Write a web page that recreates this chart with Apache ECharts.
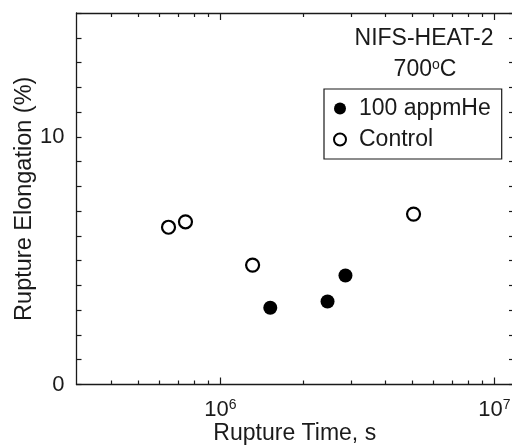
<!DOCTYPE html>
<html>
<head>
<meta charset="utf-8">
<script src="https://cdn.jsdelivr.net/npm/echarts@6/dist/echarts.min.js"></script>
<style>
  html, body { margin: 0; padding: 0; background: #fff; }
  #chart { width: 512px; height: 446px; }
</style>
</head>
<body>
<div id="chart"></div>
<script>
// ---- data ----
const heliumTime = [1.52e6, 2.46e6, 2.86e6]
const heliumElong = [3.1, 3.35, 4.4]
const controlTime = [6.46e5, 7.45e5, 1.31e6, 5.07e6]
const controlElong = [6.35, 6.57, 4.82, 6.88]

const xMajorTicks = [1e6, 1e7]
const xMinorTicks = [4e5, 5e5, 6e5, 7e5, 8e5, 9e5, 2e6, 3e6, 4e6, 5e6, 6e6, 7e6, 8e6, 9e6]
const yLabels = [0, 10]

const FONT = '"Liberation Sans", Arial, Helvetica, sans-serif'
const INK = '#1a1a1a'

const chart = echarts.init(document.getElementById('chart'), null, { renderer: 'canvas' })

const pairs = (xs, ys) => xs.map((x, i) => [x, ys[i]])

// one log axis: ticks only, placed on given side
function logAxis(position, ticks, len, withLabels, withLine) {
  return {
    type: 'log',
    position,
    min: 2.98e5,
    max: 1.17e7,
    gridIndex: 0,
    axisLine: { show: withLine, onZero: false, lineStyle: { color: INK, width: 1.3 } },
    axisTick: { show: true, inside: true, length: len, customValues: ticks, lineStyle: { color: INK, width: 1.2 } },
    axisLabel: withLabels ? {
      show: true,
      customValues: xMajorTicks,
      margin: 14,
      formatter: v => '{b|10}{s|' + Math.round(Math.log10(v)) + '}',
      rich: {
        b: { fontSize: 22, fontFamily: FONT, color: INK },
        s: { fontSize: 14, fontFamily: FONT, color: INK, verticalAlign: 'top', padding: [0, 0, 3, 0] }
      }
    } : { show: false },
    splitLine: { show: false },
    minorTick: { show: false },
    name: withLabels ? 'Rupture Time, s' : '',
    nameLocation: 'middle',
    nameGap: 38,
    nameMoveOverlap: false,
    nameTextStyle: { fontSize: 23, fontFamily: FONT, color: INK }
  }
}

function valueAxis(position, len, withLabels) {
  return {
    type: 'value',
    position,
    min: 0,
    max: 15,
    interval: 1,
    axisLine: { show: true, onZero: false, lineStyle: { color: INK, width: 1.3 } },
    axisTick: { show: true, inside: true, length: len, lineStyle: { color: INK, width: 1.2 } },
    axisLabel: withLabels ? {
      show: true,
      margin: 12,
      fontSize: 22,
      fontFamily: FONT,
      color: INK,
      formatter: v => (yLabels.includes(v) ? String(v) : '')
    } : { show: false },
    splitLine: { show: false },
    name: withLabels ? 'Rupture Elongation (%)' : '',
    nameLocation: 'middle',
    nameGap: 40,
    nameMoveOverlap: false,
    nameTextStyle: { fontSize: 23.5, fontFamily: FONT, color: INK }
  }
}

chart.setOption({
  animation: false,
  backgroundColor: '#fff',
  title: [
    {
      text: 'NIFS-HEAT-2',
      left: 424, top: 27, textAlign: 'center', padding: 0,
      textStyle: { fontSize: 23, fontWeight: 'normal', fontFamily: FONT, color: INK }
    },
    {
      text: '{a|700}{s|o}{a|C}',
      left: 425, top: 58, textAlign: 'center', padding: 0,
      textStyle: {
        fontWeight: 'normal',
        rich: {
          a: { fontSize: 23, fontWeight: 'normal', fontFamily: FONT, color: INK },
          s: { fontSize: 14, fontWeight: 'normal', fontFamily: FONT, color: INK, verticalAlign: 'top', padding: [0, 0, 4, 0] }
        }
      }
    }
  ],
  grid: { left: 76.5, right: -1, top: 13, bottom: 61.5, containLabel: false, outerBoundsMode: 'none' },
  legend: {
    orient: 'vertical',
    left: 324, top: 89,
    padding: [8, 11, 8, 9],
    itemGap: 8,
    itemWidth: 26, itemHeight: 12,
    borderColor: INK, borderWidth: 1.2, borderRadius: 0,
    textStyle: { fontSize: 23, fontFamily: FONT, color: INK, padding: [0, 0, 0, 1] },
    data: ['100 appmHe', 'Control']
  },
  xAxis: [
    logAxis('bottom', xMajorTicks, 7, true, true),
    logAxis('bottom', xMinorTicks, 4, false, false),
    logAxis('top', xMajorTicks, 7, false, true),
    logAxis('top', xMinorTicks, 4, false, false)
  ],
  yAxis: [
    valueAxis('left', 5, true),
    valueAxis('right', 4, false)
  ],
  series: [
    {
      name: '100 appmHe',
      type: 'scatter',
      xAxisIndex: 0, yAxisIndex: 0,
      symbol: 'circle',
      symbolSize: 14,
      itemStyle: { color: '#000', opacity: 1 },
      data: pairs(heliumTime, heliumElong)
    },
    {
      name: 'Control',
      type: 'scatter',
      xAxisIndex: 0, yAxisIndex: 0,
      symbol: 'circle',
      symbolSize: 13,
      itemStyle: { color: '#fff', borderColor: '#000', borderWidth: 2.2, opacity: 1 },
      data: pairs(controlTime, controlElong)
    }
  ]
})
</script>
</body>
</html>
